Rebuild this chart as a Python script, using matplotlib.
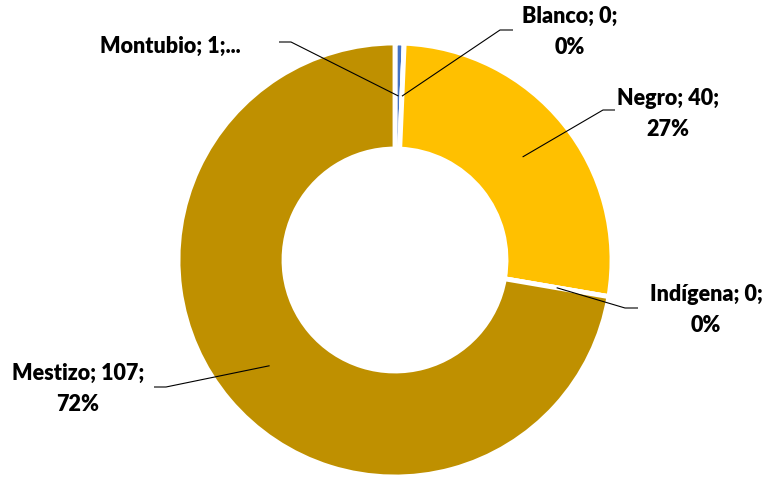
import numpy as np
import matplotlib
matplotlib.use("Agg")
import matplotlib.pyplot as plt

# --- datos ---
categorias = ["Montubio", "Blanco", "Negro", "Indígena", "Mestizo"]
valores = [1, 0, 40, 0, 107]
etiquetas = ["Montubio; 1;...", "Blanco; 0;\n0%", "Negro; 40;\n27%",
             "Indígena; 0;\n0%", "Mestizo; 107;\n72%"]
colores = ["#4472C4", "#ED7D31", "#FFC000", "#A5A5A5", "#BF9000"]

# --- layout (píxeles, origen abajo a la izquierda) ---
W, H = 766, 478
CENTRO = (395, 478 - 260)
R_EXT = 217
ANCHO = 106
# posición del texto y del codo de la línea guía
pos_texto = [(170, 432), (570, 446), (668, 364), (706, 168), (78, 89)]
codo = [(291, 436), (500, 448), (603, 368), (625, 170), (166, 91)]
fin = [(279, 436), (513, 448), (615, 368), (638, 170), (154, 91)]

plt.rcParams["font.family"] = ["Lato", "DejaVu Sans"]

fig = plt.figure(figsize=(W / 100, H / 100), dpi=100)
ax = fig.add_axes([0, 0, 1, 1])

wedges, _ = ax.pie(valores, colors=colores, startangle=90, counterclock=False,
                   center=CENTRO, radius=R_EXT, frame=True,
                   wedgeprops=dict(width=ANCHO, edgecolor="white", linewidth=3.5))
ax.set_xlim(0, W)
ax.set_ylim(0, H)
ax.set_aspect("equal")
ax.axis("off")

r_medio = R_EXT - ANCHO / 2
for w, txt, pt, cd, fn in zip(wedges, etiquetas, pos_texto, codo, fin):
    ang = np.deg2rad((w.theta1 + w.theta2) / 2)
    px = CENTRO[0] + r_medio * np.cos(ang)
    py = CENTRO[1] + r_medio * np.sin(ang)
    ax.plot([px, cd[0], fn[0]], [py, cd[1], fn[1]], color="black", lw=0.8,
            solid_capstyle="butt")
    ax.text(pt[0], pt[1], txt, ha="center", va="center", fontsize=15.5,
            fontweight="heavy", linespacing=1.6, color="black")

fig.savefig("out.png", dpi=100)
